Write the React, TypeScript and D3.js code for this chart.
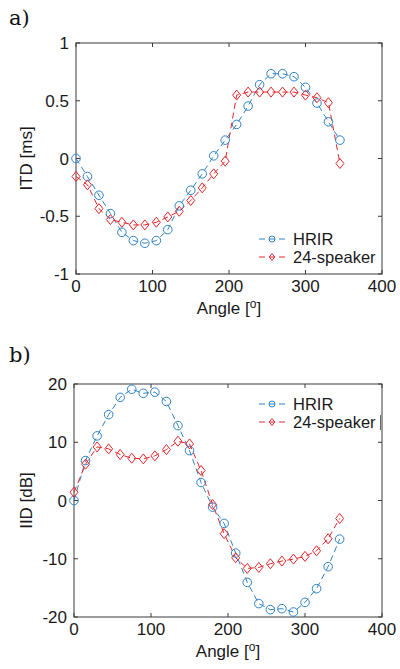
import React from "react";
import * as d3 from "d3";

const angles = [0, 15, 30, 45, 60, 75, 90, 105, 120, 135, 150, 165, 180, 195, 210, 225, 240, 255, 270, 285, 300, 315, 330, 345];

const itdHrir = [0, -0.156, -0.318, -0.477, -0.639, -0.711, -0.734, -0.711, -0.616, -0.41, -0.275, -0.133, 0.023, 0.159, 0.295, 0.454, 0.639, 0.734, 0.734, 0.708, 0.616, 0.48, 0.318, 0.159];
const itdSpk = [-0.156, -0.228, -0.434, -0.529, -0.552, -0.575, -0.575, -0.552, -0.506, -0.457, -0.364, -0.254, -0.133, -0.023, 0.549, 0.575, 0.575, 0.575, 0.575, 0.575, 0.549, 0.526, 0.483, -0.043];

const iidHrir = [0, 6.86, 11.09, 14.74, 17.7, 19.1, 18.4, 18.6, 17.0, 12.86, 8.57, 3.09, -1.14, -3.94, -9.03, -14.06, -17.7, -18.74, -18.57, -19.14, -17.49, -15.14, -11.37, -6.63];
const iidSpk = [1.43, 6.23, 9.2, 8.86, 7.89, 7.26, 7.14, 7.66, 8.74, 10.17, 9.71, 5.14, -0.69, -5.71, -9.83, -11.66, -11.49, -10.86, -10.4, -10.06, -9.6, -8.63, -6.57, -3.09];

const xTicks = [0, 100, 200, 300, 400];
const itdTicks = [-1, -0.5, 0, 0.5, 1];
const iidTicks = [-20, -10, 0, 10, 20];
const seriesNames = ["HRIR", "24-speaker"];

const BLUE = "#2f82c6";
const RED = "#e3262b";
const AXIS = "#3a3a3a";
const TXT = "#1a1a1a";
const SANS = "'Liberation Sans', Arial, Helvetica, sans-serif";
const SERIF = "'DejaVu Serif', 'Liberation Serif', serif";
const FS = 17;

type PanelProps = {
  left: number; right: number; top: number; bottom: number;
  yDomain: [number, number]; yTicks: number[];
  hrir: number[]; spk: number[];
  yLabel: string; panelLabel: string; panelLabelY: number;
  legendX: number; legendY: number; extraMark?: boolean;
};

function Circle({ x, y, r, color }: { x: number; y: number; r: number; color: string }) {
  return <circle cx={x} cy={y} r={r} fill="none" stroke={color} strokeWidth={1} />;
}
function Diamond({ x, y, r, color }: { x: number; y: number; r: number; color: string }) {
  const w = r * 0.8;
  return <path d={`M${x},${y - r}L${x + w},${y}L${x},${y + r}L${x - w},${y}Z`} fill="none" stroke={color} strokeWidth={1} />;
}

function Panel(p: PanelProps) {
  const x = d3.scaleLinear().domain([0, 400]).range([p.left, p.right]);
  const y = d3.scaleLinear().domain(p.yDomain).range([p.bottom, p.top]);
  const line = d3.line<number>().x((_, i) => x(angles[i])).y((v) => y(v));
  const tl = 4;
  const fmt = (v: number) => String(v);
  return (
    <g>
      <text x={9} y={p.panelLabelY} fontFamily={SERIF} fontSize={21} fill="#111">{p.panelLabel}</text>
      <rect x={p.left} y={p.top} width={p.right - p.left} height={p.bottom - p.top} fill="none" stroke={AXIS} strokeWidth={1} />
      {xTicks.map((t) => (
        <g key={"x" + t}>
          <line x1={x(t)} x2={x(t)} y1={p.bottom} y2={p.bottom - tl} stroke={AXIS} />
          <line x1={x(t)} x2={x(t)} y1={p.top} y2={p.top + tl} stroke={AXIS} />
          <text x={x(t)} y={p.bottom + 18} textAnchor="middle" fontFamily={SANS} fontSize={FS} fill={TXT}>{fmt(t)}</text>
        </g>
      ))}
      {p.yTicks.map((t) => (
        <g key={"y" + t}>
          <line x1={p.left} x2={p.left + tl} y1={y(t)} y2={y(t)} stroke={AXIS} />
          <line x1={p.right} x2={p.right - tl} y1={y(t)} y2={y(t)} stroke={AXIS} />
          <text x={p.left - 7} y={y(t) + 6} textAnchor="end" fontFamily={SANS} fontSize={FS} fill={TXT}>{fmt(t)}</text>
        </g>
      ))}
      <text x={(p.left + p.right) / 2} y={p.bottom + 40} textAnchor="middle" fontFamily={SANS} fontSize={FS} fill={TXT}>
        Angle [<tspan dy={-6} fontSize={12}>o</tspan><tspan dy={6}>]</tspan>
      </text>
      <text transform={`translate(32,${(p.top + p.bottom) / 2}) rotate(-90)`} textAnchor="middle" fontFamily={SANS} fontSize={FS} fill={TXT}>{p.yLabel}</text>
      <path d={line(p.hrir) || ""} fill="none" stroke={BLUE} strokeWidth={1} strokeDasharray="6,4" />
      <path d={line(p.spk) || ""} fill="none" stroke={RED} strokeWidth={1} strokeDasharray="6,4" />
      {p.hrir.map((v, i) => <Circle key={"h" + i} x={x(angles[i])} y={y(v)} r={4.3} color={BLUE} />)}
      {p.spk.map((v, i) => <Diamond key={"s" + i} x={x(angles[i])} y={y(v)} r={5} color={RED} />)}
      <g>
        <line x1={p.legendX} x2={p.legendX + 26} y1={p.legendY} y2={p.legendY} stroke={BLUE} strokeDasharray="6,4" />
        <Circle x={p.legendX + 13} y={p.legendY} r={3} color={BLUE} />
        <text x={p.legendX + 34} y={p.legendY + 6} fontFamily={SANS} fontSize={16.5} fill={TXT}>{seriesNames[0]}</text>
        <line x1={p.legendX} x2={p.legendX + 26} y1={p.legendY + 18} y2={p.legendY + 18} stroke={RED} strokeDasharray="6,4" />
        <Diamond x={p.legendX + 13} y={p.legendY + 18} r={3.5} color={RED} />
        <text x={p.legendX + 34} y={p.legendY + 24} fontFamily={SANS} fontSize={16.5} fill={TXT}>{seriesNames[1]}</text>
        {p.extraMark ? <line x1={380.5} x2={380.5} y1={p.legendY + 11} y2={p.legendY + 26} stroke="#666" /> : null}
      </g>
    </g>
  );
}

export default function App() {
  return (
    <svg width={400} height={669} style={{ position: "absolute", left: 0, top: 0, background: "#fff" }}>
      <rect width={400} height={669} fill="#fff" />
      <Panel left={76} right={382} top={43} bottom={274} yDomain={[-1, 1]} yTicks={itdTicks}
        hrir={itdHrir} spk={itdSpk} yLabel="ITD [ms]" panelLabel="a)" panelLabelY={25}
        legendX={259} legendY={239} />
      <Panel left={74} right={382} top={384} bottom={617} yDomain={[-20, 20]} yTicks={iidTicks}
        hrir={iidHrir} spk={iidSpk} yLabel="IID [dB]" panelLabel="b)" panelLabelY={362}
        legendX={259} legendY={404} extraMark />
    </svg>
  );
}
